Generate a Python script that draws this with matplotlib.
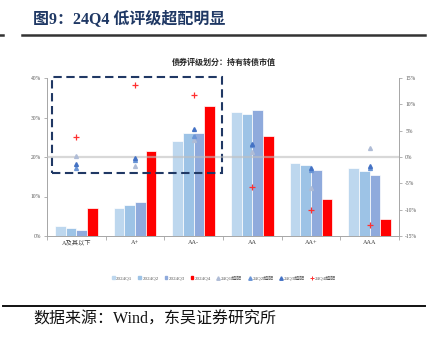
import matplotlib
matplotlib.use("Agg")
import matplotlib.pyplot as plt
from matplotlib.patches import Rectangle
from matplotlib.lines import Line2D
import numpy as np

plt.rcParams['font.family'] = ['Liberation Serif', 'Noto Sans CJK SC', 'DejaVu Sans']

categories = ['A及其以下', 'A+', 'AA-', 'AA', 'AA+', 'AAA']
hold_q1 = [2.5, 7.1, 24.0, 31.3, 18.6, 17.1]
hold_q2 = [1.9, 7.8, 26.0, 30.8, 17.9, 16.4]
hold_q3 = [1.4, 8.6, 26.0, 31.9, 16.7, 15.4]
hold_q4 = [7.1, 21.5, 32.9, 25.3, 9.4, 4.2]
over_q1 = [0.1, -1.7, 3.2, 1.0, -5.8, 1.8]
over_q2 = [-2.0, -0.6, 3.9, 2.3, -2.4, -2.0]
over_q3 = [-1.3, -0.25, 5.3, 2.4, -2.0, -1.7]
over_q4 = [3.75, 13.6, 11.8, -5.7, -10.0, -13.0]
bar_labels = ['2024Q1', '2024Q2', '2024Q3', '2024Q4']
mk_labels = ['24Q1超配', '24Q2超配', '24Q3超配', '24Q4超配']
left_ticks = [0, 10, 20, 30, 40]
right_ticks = [-15, -10, -5, 0, 5, 10, 15]

W, H = 435, 340
fig = plt.figure(figsize=(W / 100, H / 100), dpi=100)
fig.patch.set_facecolor('white')

x0, x1, y0, y1 = 47, 399, 78, 236
ax = fig.add_axes([x0 / W, 1 - y1 / H, (x1 - x0) / W, (y1 - y0) / H])
ax2 = ax.twinx()

x = np.arange(len(categories))
w = 0.182
bar_colors = ['#BDD7EE', '#9DC3E6', '#8FAADC', '#FF0000']
for i, (vals, c, lab) in enumerate(zip([hold_q1, hold_q2, hold_q3, hold_q4], bar_colors, bar_labels)):
    ax.bar(x + (i - 1.5) * w, np.array(vals) / 100, width=w, color=c,
           edgecolor='white', linewidth=0.5, label=lab, zorder=2)

ax.set_xlim(-0.5, len(categories) - 0.5)
ax.set_ylim(0, 0.40)
ax.set_yticks(np.array(left_ticks) / 100)
ax.set_yticklabels([f'{t}%' for t in left_ticks])
ax.set_xticks(x)
ax.set_xticklabels(categories)
ax.set_xticks(np.arange(-0.5, len(categories), 1), minor=True)
ax.tick_params(axis='x', which='major', length=0, labelsize=4.5, colors='#404040', pad=3)
ax.tick_params(axis='x', which='minor', length=3, color='#A6A6A6', width=0.6)
ax.tick_params(axis='y', labelsize=4, colors='#595959', length=2.5, width=0.6, color='#A6A6A6', pad=2)

ax2.set_ylim(-15, 15)
ax2.set_yticks(right_ticks)
ax2.set_yticklabels([f'{t}%' for t in right_ticks])
ax2.tick_params(axis='y', labelsize=4, colors='#595959', length=2.5, width=0.6, color='#A6A6A6', pad=2)

for a in (ax, ax2):
    a.spines['top'].set_visible(False)
    for s in ('left', 'right', 'bottom'):
        a.spines[s].set_color('#A6A6A6')
        a.spines[s].set_linewidth(0.7)
ax.spines['right'].set_visible(False)
ax2.spines['left'].set_visible(False)
ax2.spines['bottom'].set_visible(False)

ax2.axhline(0, color='#BFBFBF', lw=1.6, alpha=0.6, zorder=3)

mk_colors = ['#AFBCD6', '#6A95D6', '#4472C4']
for vals, c, lab in zip([over_q1, over_q2, over_q3], mk_colors, mk_labels[:3]):
    ax2.plot(x, vals, linestyle='none', marker='^', markersize=2.8, color=c,
             label=lab, zorder=4)
ax2.plot(x, over_q4, linestyle='none', marker='+', markersize=5, mew=0.9,
         color='#FF3030', label=mk_labels[3], zorder=4)

rect = Rectangle((-0.415, 0.159), 2.895, 0.243, fill=False, edgecolor='#203864',
                 linewidth=1.5, linestyle=(0, (4, 2.2)), clip_on=False, zorder=5)
ax.add_patch(rect)

fig.text(224 / W, 1 - 63 / H, '债券评级划分：持有转债市值', ha='center', va='center',
         fontsize=5.8, fontweight='bold', color='#262626')

handles = [Rectangle((0, 0), 1, 1, color=c) for c in bar_colors]
handles += [Line2D([], [], linestyle='none', marker='^', markersize=2.5, color=c) for c in mk_colors]
handles += [Line2D([], [], linestyle='none', marker='+', markersize=3.5, mew=0.7, color='#FF3030')]
fig.legend(handles, bar_labels + mk_labels, loc='center', bbox_to_anchor=(224 / W, 1 - 278 / H),
           ncol=8, fontsize=3.6, frameon=False, handlelength=0.5, handleheight=0.5,
           handletextpad=0.3, columnspacing=1.2, labelcolor='#595959')

fig.text(33 / W, 1 - 19 / H, '图9：24Q4 低评级超配明显', ha='left', va='center',
         fontsize=11.5, fontweight='bold', color='#1F3864')
fig.add_artist(Line2D([22 / W, 425 / W], [1 - 35 / H, 1 - 35 / H], color='#333333', lw=1.8))
fig.add_artist(Line2D([0, 3 / W], [1 - 35 / H, 1 - 35 / H], color='#333333', lw=1.8))
fig.add_artist(Line2D([3 / W, 425 / W], [1 - 306 / H, 1 - 306 / H], color='#111111', lw=1.4))
fig.text(33 / W, 1 - 320 / H, '数据来源：Wind，东吴证券研究所', ha='left', va='center',
         fontsize=11.5, color='#111111')

fig.savefig('out.png', dpi=100, facecolor='white')
